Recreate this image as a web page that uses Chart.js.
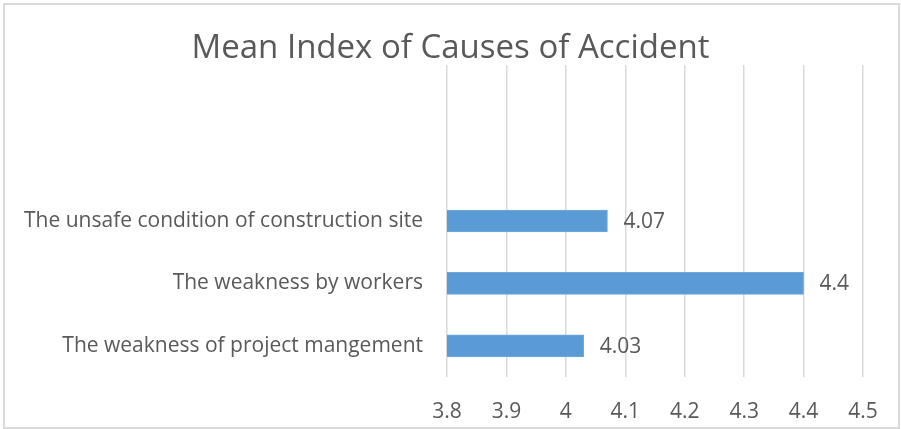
<!DOCTYPE html>
<html>
<head>
<meta charset="utf-8">
<script src="https://cdn.jsdelivr.net/npm/chart.js@4.4.0/dist/chart.umd.min.js"></script>
<style>
  html, body { margin: 0; padding: 0; background: #fff; }
  #wrap { position: absolute; left: 3px; top: 3px; width: 893px; height: 422px; border: 2px solid #d9d9d9; }
  #c { position: absolute; left: -5px; top: -5px; }
</style>
</head>
<body>
<div id="wrap"><canvas id="c" width="901" height="429"></canvas></div>
<script>
// top two rows are empty in the original chart
const categories = ['', '', 'The unsafe condition of construction site', 'The weakness by workers', 'The weakness of project mangement'];
const meanIndex = [null, null, 4.07, 4.4, 4.03];
const xTicks = [3.8, 3.9, 4, 4.1, 4.2, 4.3, 4.4, 4.5];

const textColor = '#595959';
const fontFamily = '"Open Sans", sans-serif';

const valueLabels = {
  id: 'valueLabels',
  afterDatasetsDraw(chart) {
    const { ctx } = chart;
    const meta = chart.getDatasetMeta(0);
    ctx.save();
    ctx.font = '21px ' + fontFamily;
    ctx.fillStyle = textColor;
    ctx.textAlign = 'left';
    ctx.textBaseline = 'middle';
    meta.data.forEach((bar, i) => {
      const v = chart.data.datasets[0].data[i];
      if (v == null) return;
      ctx.fillText(String(v), bar.x + 16, bar.y + 1);
    });
    ctx.restore();
  }
};

new Chart(document.getElementById('c').getContext('2d'), {
  type: 'bar',
  data: {
    labels: categories,
    datasets: [{
      data: meanIndex,
      backgroundColor: '#5b9bd5',
      borderColor: '#6fa8dc',
      borderWidth: 1,
      borderSkipped: false,
      barThickness: 22
    }]
  },
  options: {
    indexAxis: 'y',
    responsive: false,
    animation: false,
    layout: { padding: 0 },
    plugins: {
      legend: { display: false },
      tooltip: { enabled: false },
      title: {
        display: true,
        text: 'Mean Index of Causes of Accident',
        color: textColor,
        font: { family: fontFamily, size: 33, weight: 'normal', lineHeight: 1 },
        padding: { top: 32, bottom: 0 }
      }
    },
    scales: {
      x: {
        min: 3.8,
        max: 4.5,
        afterBuildTicks(scale) { scale.ticks = xTicks.map(v => ({ value: v })); },
        afterFit(scale) { scale.height = 52; },
        grid: { color: '#d9d9d9', lineWidth: 1.5, drawTicks: false },
        border: { display: false },
        ticks: {
          color: textColor,
          padding: 22,
          font: { family: fontFamily, size: 21 },
          callback: v => String(Number(v.toFixed(1)))
        }
      },
      y: {
        afterFit(scale) { scale.width = 447; },
        grid: { display: false, drawTicks: false },
        border: { display: false },
        ticks: {
          color: textColor,
          padding: 24,
          font: { family: fontFamily, size: 21 }
        }
      },
      // empty right-hand gutter so the title stays centred on the whole chart
      gutter: {
        type: 'linear',
        position: 'right',
        afterFit(scale) { scale.width = 38; },
        grid: { display: false, drawTicks: false },
        border: { display: false },
        ticks: { display: false }
      }
    }
  },
  plugins: [valueLabels]
});
</script>
</body>
</html>
